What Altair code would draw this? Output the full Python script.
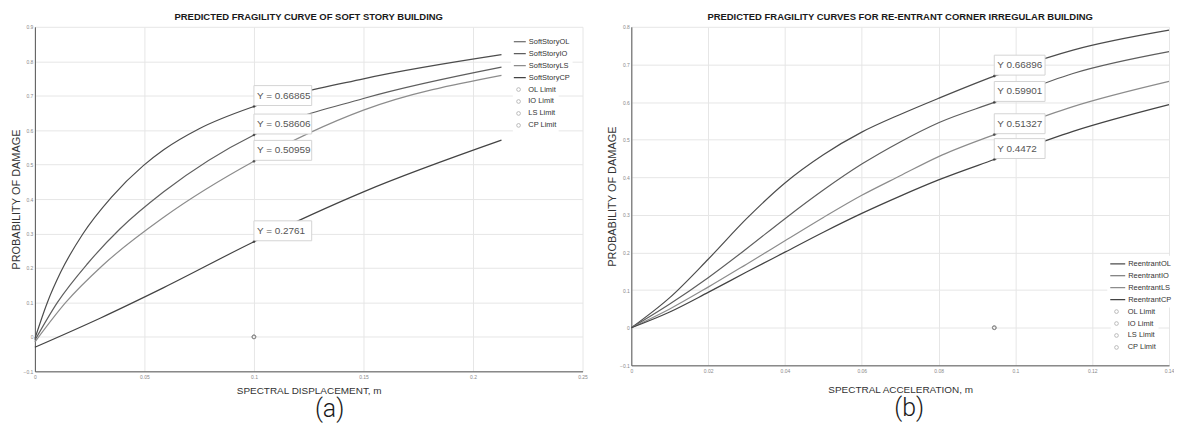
import altair as alt
import pandas as pd

# ---------------- data: panel (a) soft story ----------------
A_SERIES = ["SoftStoryOL", "SoftStoryIO", "SoftStoryLS", "SoftStoryCP"]
a_x_ol = [0, 0.0057, 0.0118, 0.0218, 0.0349, 0.0495, 0.0588, 0.075, 0.1, 0.15, 0.213]
a_y_ol = [-0.005, 0.1, 0.188, 0.298, 0.405, 0.497, 0.543, 0.604, 0.66865, 0.749, 0.819]
a_x_io = [0, 0.0103, 0.0241, 0.0388, 0.0588, 0.1, 0.15, 0.213]
a_y_io = [-0.01, 0.1, 0.213, 0.313, 0.421, 0.58606, 0.692, 0.783]
a_x_ls = [0, 0.0141, 0.031, 0.0588, 0.1, 0.15, 0.213]
a_y_ls = [-0.015, 0.1, 0.208, 0.347, 0.50959, 0.658, 0.759]
a_x_cp = [0, 0.03, 0.0588, 0.1, 0.15, 0.213]
a_y_cp = [-0.03, 0.055, 0.143, 0.2761, 0.421, 0.571]
a_tip_x = 0.1
a_tip_y = [0.66865, 0.58606, 0.50959, 0.2761]
a_tip_labels = ["Y = 0.66865", "Y = 0.58606", "Y = 0.50959", "Y = 0.2761"]
a_limit_x = 0.1
a_limit_y = 0
a_xticks = [0, 0.05, 0.1, 0.15, 0.2, 0.25]
a_yticks = [-0.1, 0, 0.1, 0.2, 0.3, 0.4, 0.5, 0.6, 0.7, 0.8, 0.9]

# ---------------- data: panel (b) re-entrant corner ----------------
B_SERIES = ["ReentrantOL", "ReentrantIO", "ReentrantLS", "ReentrantCP"]
b_x = [0, 0.01, 0.02, 0.03, 0.04, 0.05, 0.06, 0.07, 0.08, 0.0945, 0.115, 0.14]
b_y_ol = [0, 0.08, 0.182, 0.29, 0.385, 0.46, 0.52, 0.567, 0.61, 0.66896, 0.738, 0.791]
b_y_io = [0, 0.063, 0.133, 0.21, 0.29, 0.366, 0.435, 0.494, 0.545, 0.59901, 0.676, 0.734]
b_y_ls = [0, 0.05, 0.108, 0.169, 0.231, 0.293, 0.352, 0.404, 0.455, 0.51327, 0.588, 0.655]
b_y_cp = [0, 0.042, 0.094, 0.148, 0.201, 0.254, 0.304, 0.35, 0.393, 0.4472, 0.522, 0.593]
b_tip_x = 0.0945
b_tip_y = [0.66896, 0.59901, 0.51327, 0.4472]
b_tip_labels = ["Y 0.66896", "Y 0.59901", "Y 0.51327", "Y 0.4472"]
b_limit_x = 0.0945
b_limit_y = 0
b_xticks = [0, 0.02, 0.04, 0.06, 0.08, 0.1, 0.12, 0.14]
b_yticks = [-0.1, 0, 0.1, 0.2, 0.3, 0.4, 0.5, 0.6, 0.7, 0.8]

LIMITS = ["OL Limit", "IO Limit", "LS Limit", "CP Limit"]
LINE_COLORS = ["#4c4c4c", "#5e5e5e", "#8c8c8c", "#434343"]

FONT = "Liberation Sans"


def lines_df(series, xs_list, ys_list):
    rows = []
    for s, xs, ys in zip(series, xs_list, ys_list):
        for x, y in zip(xs, ys):
            rows.append({"series": s, "x": x, "y": y})
    return pd.DataFrame(rows)


def panel(series, xs_list, ys_list, tip_x, tip_y, tip_labels, lim_x, lim_y,
          xticks, yticks, xtitle, ytitle, title, width, height,
          legend_x, legend_y, sym_len, box_w, x_title_pad):
    ldf = lines_df(series, xs_list, ys_list)
    tips = pd.DataFrame({"x": [tip_x] * len(tip_y), "y": tip_y, "label": tip_labels})
    lims = pd.DataFrame({"x": [lim_x] * len(LIMITS), "y": [lim_y] * len(LIMITS), "limit": LIMITS})

    x_enc = alt.X("x:Q",
                  scale=alt.Scale(domain=[xticks[0], xticks[-1]], nice=False, zero=False),
                  axis=alt.Axis(values=xticks, format="~g", title=xtitle, titleFontSize=10,
                                titlePadding=x_title_pad, labelPadding=3, labelFlush=False,
                                grid=True))
    y_enc = alt.Y("y:Q",
                  scale=alt.Scale(domain=[yticks[0], yticks[-1]], nice=False, zero=False),
                  axis=alt.Axis(values=yticks, format="~g", title=ytitle, titleFontSize=11,
                                titlePadding=2, labelPadding=2, labelFlush=False, grid=True))

    lines = alt.Chart(ldf).mark_line(strokeWidth=1.2, interpolate="monotone").encode(
        x=x_enc, y=y_enc,
        color=alt.Color("series:N",
                        scale=alt.Scale(domain=series, range=LINE_COLORS),
                        legend=alt.Legend(orient="none", legendX=legend_x, legendY=legend_y,
                                          title=None, symbolType="stroke",
                                          symbolSize=sym_len * sym_len, symbolStrokeWidth=1.2,
                                          labelFontSize=7.5, labelFont=FONT, labelColor="#333",
                                          labelOffset=2, rowPadding=0, clipHeight=12,
                                          padding=2, fillColor="white")),
        order=alt.Order("x:Q"),
    )

    limits = alt.Chart(lims).mark_point(size=14, filled=False, strokeWidth=0.8, color="#8a8a8a").encode(
        x=x_enc, y=y_enc,
        shape=alt.Shape("limit:N",
                        scale=alt.Scale(domain=LIMITS, range=["circle"] * 4),
                        legend=alt.Legend(orient="none", legendX=legend_x + sym_len / 2 - 4,
                                          legendY=legend_y + 48, title=None,
                                          symbolSize=14, symbolStrokeWidth=0.8,
                                          labelFontSize=7.5, labelFont=FONT, labelColor="#333",
                                          labelOffset=sym_len / 2, rowPadding=0, clipHeight=12,
                                          padding=2, fillColor="white")),
    )

    boxes = alt.Chart(tips).mark_rect(fill="white", stroke="#d4d4d4", strokeWidth=1,
                                      xOffset=0, x2Offset=box_w, yOffset=-21, y2Offset=-1).encode(
        x=x_enc, x2="x", y=y_enc, y2="y")

    texts = alt.Chart(tips).mark_text(align="left", baseline="middle", dx=3, dy=-11,
                                      fontSize=10, font=FONT, color="#555").encode(
        x=x_enc, y=y_enc, text="label:N")

    dots = alt.Chart(tips).mark_point(filled=True, size=7, color="#333").encode(x=x_enc, y=y_enc)

    return alt.layer(lines, limits, boxes, texts, dots).properties(
        width=width, height=height,
        title=alt.TitleParams(title, fontSize=9.5, font=FONT, fontWeight="bold",
                              color="#1a1a1a", offset=3, anchor="middle"))


pa = panel(A_SERIES, [a_x_ol, a_x_io, a_x_ls, a_x_cp], [a_y_ol, a_y_io, a_y_ls, a_y_cp],
           a_tip_x, a_tip_y, a_tip_labels, a_limit_x, a_limit_y, a_xticks, a_yticks,
           "SPECTRAL DISPLACEMENT, m", "PROBABILITY OF DAMAGE",
           "PREDICTED FRAGILITY CURVE OF SOFT STORY BUILDING", 550, 346,
           478, 7, 12, 58, 6)

pb = panel(B_SERIES, [b_x, b_x, b_x, b_x], [b_y_ol, b_y_io, b_y_ls, b_y_cp],
           b_tip_x, b_tip_y, b_tip_labels, b_limit_x, b_limit_y, b_xticks, b_yticks,
           "SPECTRAL ACCELERATION, m", "PROBABILITY OF DAMAGE",
           "PREDICTED FRAGILITY CURVES FOR RE-ENTRANT CORNER IRREGULAR BUILDING", 540, 340,
           478, 230, 15, 51, 11)

va = alt.vconcat(pa, title=alt.TitleParams("(a)", orient="bottom", fontSize=25, font="Roboto",
                                           fontWeight=300, color="#1a1a1a", dx=31, offset=2,
                                           anchor="middle"))
vb = alt.vconcat(pb, title=alt.TitleParams("(b)", orient="bottom", fontSize=25, font="Roboto",
                                           fontWeight=300, color="#1a1a1a", dx=19, offset=2,
                                           anchor="middle"))

chart = alt.hconcat(va, vb, spacing=19).resolve_scale(
    color="independent", shape="independent"
).properties(
    padding={"left": 2, "top": 3, "right": 0, "bottom": 0}
).configure_axis(
    labelFontSize=5, labelColor="#8a8a8a", labelFont=FONT,
    titleFont=FONT, titleFontWeight="normal", titleColor="#333",
    gridColor="#e6e6e6", gridWidth=1, domainColor="#555", domainWidth=1, ticks=False,
).configure_view(stroke=None)

chart.save("out.html", embed_options={"renderer": "svg", "actions": False})
